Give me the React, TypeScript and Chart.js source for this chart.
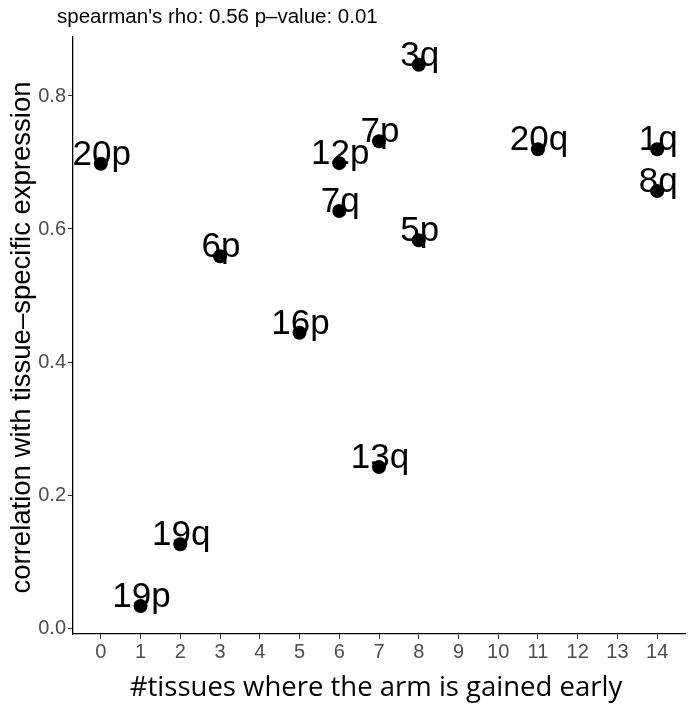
import React, { useEffect, useRef } from 'react';
import { Chart, registerables } from 'chart.js';

Chart.register(...registerables);

const armLabels = ['20p', '19p', '19q', '6p', '16p', '12p', '7q', '7p', '13q', '3q', '5p', '20q', '1q', '8q'];
const xValues = [0, 1, 2, 3, 5, 6, 6, 7, 7, 8, 8, 11, 14, 14];
const yValues = [0.698, 0.033, 0.126, 0.559, 0.444, 0.699, 0.627, 0.732, 0.242, 0.847, 0.583, 0.72, 0.72, 0.657];
const xTicks = [0, 1, 2, 3, 4, 5, 6, 7, 8, 9, 10, 11, 12, 13, 14];
const yTicks = [0, 0.2, 0.4, 0.6, 0.8];
const titleText = "spearman's rho: 0.56 p\u2013value: 0.01";
const xTitle = '#tissues where the arm is gained early';
const yTitle = 'correlation with tissue\u2013specific expression';

const SANS = '"Liberation Sans", Arial, Helvetica, sans-serif';

const overlayPlugin = {
  id: 'overlay',
  afterDatasetsDraw(chart: any) {
    const ctx = chart.ctx;
    const meta = chart.getDatasetMeta(0);
    ctx.save();
    ctx.fillStyle = '#000';
    ctx.font = `35px ${SANS}`;
    ctx.textAlign = 'center';
    ctx.textBaseline = 'alphabetic';
    meta.data.forEach((pt: any, i: number) => {
      ctx.fillText(armLabels[i], pt.x + 1, pt.y + 1);
    });
    ctx.restore();
  },
  afterDraw(chart: any) {
    const ctx = chart.ctx;
    const area = chart.chartArea;
    ctx.save();
    ctx.fillStyle = '#000';
    ctx.font = `20.5px ${SANS}`;
    ctx.textAlign = 'left';
    ctx.textBaseline = 'alphabetic';
    ctx.fillText(titleText, 57, 23);

    ctx.font = `27.5px "Open Sans", ${SANS}`;
    ctx.textAlign = 'center';
    ctx.textBaseline = 'middle';
    ctx.fillText(xTitle, (area.left + area.right) / 2 - 3, 688);

    ctx.translate(22, (area.top + area.bottom) / 2 + 2);
    ctx.rotate(-Math.PI / 2);
    ctx.font = `27.5px ${SANS}`;
    ctx.fillText(yTitle, 0, 0);
    ctx.restore();
  },
};

export default function App() {
  const ref = useRef<HTMLCanvasElement | null>(null);
  useEffect(() => {
    if (!ref.current) return;
    const points = xValues.map((x, i) => ({ x, y: yValues[i] }));
    const chart = new Chart(ref.current, {
      type: 'scatter',
      data: {
        datasets: [
          {
            data: points,
            backgroundColor: '#000',
            borderWidth: 0,
            pointRadius: 7,
            pointHoverRadius: 7,
          },
        ],
      },
      options: {
        responsive: false,
        animation: false,
        layout: { padding: { top: 37, right: 4, left: 0, bottom: 0 } },
        plugins: { legend: { display: false }, tooltip: { enabled: false }, title: { display: false } },
        scales: {
          x: {
            type: 'linear',
            min: -0.7,
            max: 14.7,
            afterBuildTicks: (scale: any) => {
              scale.ticks = xTicks.map((v) => ({ value: v }));
            },
            afterFit: (scale: any) => {
              scale.height = 74;
            },
            border: { display: true, color: '#000', width: 1.3 },
            grid: { display: true, drawOnChartArea: false, drawTicks: true, tickLength: 5, tickColor: '#333', tickWidth: 1 },
            ticks: {
              color: '#4D4D4D',
              font: { family: SANS, size: 20 },
              padding: 1,
              maxRotation: 0,
              autoSkip: false,
              callback: (v: any) => String(v),
            },
          },
          y: {
            type: 'linear',
            min: -0.009,
            max: 0.8887,
            afterBuildTicks: (scale: any) => {
              scale.ticks = yTicks.map((v) => ({ value: v }));
            },
            afterFit: (scale: any) => {
              scale.width = 73;
            },
            border: { display: true, color: '#000', width: 1.3 },
            grid: { display: true, drawOnChartArea: false, drawTicks: true, tickLength: 5, tickColor: '#333', tickWidth: 1 },
            ticks: {
              color: '#4D4D4D',
              font: { family: SANS, size: 20 },
              padding: 2,
              autoSkip: false,
              callback: (v: any) => Number(v).toFixed(1),
            },
          },
        },
      },
      plugins: [overlayPlugin],
    });
    return () => chart.destroy();
  }, []);
  return (
    <div style={{ position: 'absolute', left: 0, top: 0, width: 692, height: 708, background: '#fff' }}>
      <canvas ref={ref} width={692} height={708} style={{ display: 'block', width: 692, height: 708 }} />
    </div>
  );
}
